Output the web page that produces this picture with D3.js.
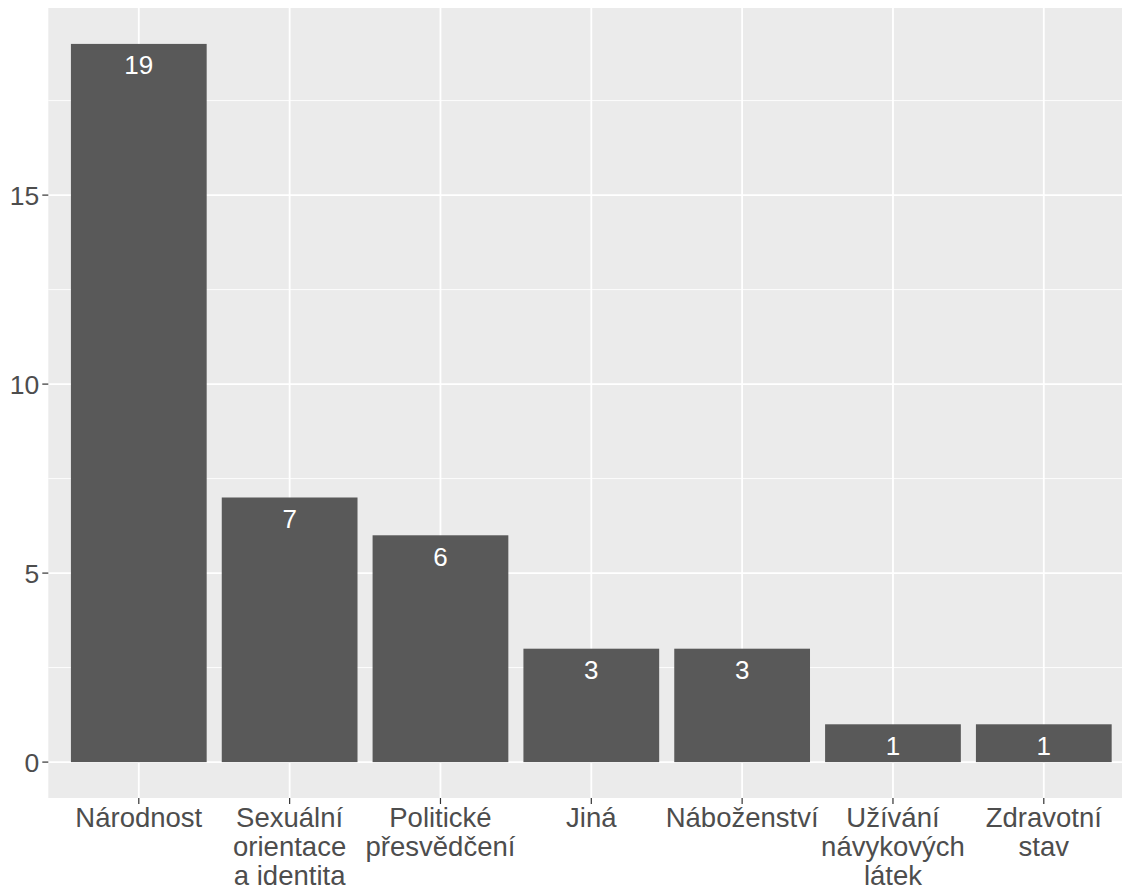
<!DOCTYPE html>
<html><head><meta charset="utf-8">
<script src="https://cdn.jsdelivr.net/npm/d3@7"></script>
<style>body{margin:0;background:#fff}svg{display:block}</style>
</head><body><svg id="c" width="1122" height="885"></svg>
<script>
const categories = [["Národnost"],["Sexuální","orientace","a identita"],["Politické","přesvědčení"],["Jiná"],["Náboženství"],["Užívání","návykových","látek"],["Zdravotní","stav"]];
const values = [19,7,6,3,3,1,1];
const yTicks = [0,5,10,15];
const yMinor = [2.5,7.5,12.5,17.5];

(function(){
const W=1122,H=885;
const pLeft=48.3, pTop=8, pBottom=798, rightRange=1134.3;
const svg=d3.select("#c");
const font="'Liberation Sans', Arial, sans-serif";
const keys=categories.map((c,i)=>i);
const x=d3.scalePoint().domain(keys).range([pLeft,rightRange]).padding(0.6);
const step=x.step();
const y=d3.scaleLinear().domain([-0.95,19.95]).range([pBottom,pTop]);

svg.append("rect").attr("x",pLeft).attr("y",pTop).attr("width",W-pLeft).attr("height",pBottom-pTop).attr("fill","#EBEBEB");
const g=svg.append("g");
yMinor.forEach(v=>g.append("line").attr("x1",pLeft).attr("x2",W).attr("y1",y(v)).attr("y2",y(v)).attr("stroke","#fff").attr("stroke-width",0.9));
yTicks.forEach(v=>g.append("line").attr("x1",pLeft).attr("x2",W).attr("y1",y(v)).attr("y2",y(v)).attr("stroke","#fff").attr("stroke-width",1.8));
keys.forEach(k=>g.append("line").attr("x1",x(k)).attr("x2",x(k)).attr("y1",pTop).attr("y2",pBottom).attr("stroke","#fff").attr("stroke-width",1.8));

const bw=step*0.9;
svg.selectAll("rect.bar").data(values).enter().append("rect").attr("class","bar")
 .attr("x",(d,i)=>x(i)-bw/2).attr("width",bw)
 .attr("y",d=>y(d)).attr("height",d=>y(0)-y(d)).attr("fill","#595959");
svg.selectAll("text.lab").data(values).enter().append("text").attr("class","lab")
 .attr("x",(d,i)=>x(i)).attr("y",d=>y(d)+30.5).attr("text-anchor","middle")
 .attr("fill","#fff").attr("font-family",font).attr("font-size",26).text(d=>d);

yTicks.forEach(v=>{
  svg.append("line").attr("x1",pLeft-6).attr("x2",pLeft).attr("y1",y(v)).attr("y2",y(v)).attr("stroke","#333").attr("stroke-width",1.2);
  svg.append("text").attr("x",pLeft-9).attr("y",y(v)).attr("dy","0.36em").attr("text-anchor","end")
   .attr("fill","#4D4D4D").attr("font-family",font).attr("font-size",26.5).text(v);
});
keys.forEach(k=>{
  svg.append("line").attr("x1",x(k)).attr("x2",x(k)).attr("y1",pBottom).attr("y2",pBottom+6).attr("stroke","#333").attr("stroke-width",1.2);
  const t=svg.append("text").attr("text-anchor","middle").attr("fill","#4D4D4D").attr("font-family",font).attr("font-size",27.5);
  categories[k].forEach((line,j)=>t.append("tspan").attr("x",x(k)).attr("y",826.5+j*29).text(line));
});
})();
</script></body></html>
